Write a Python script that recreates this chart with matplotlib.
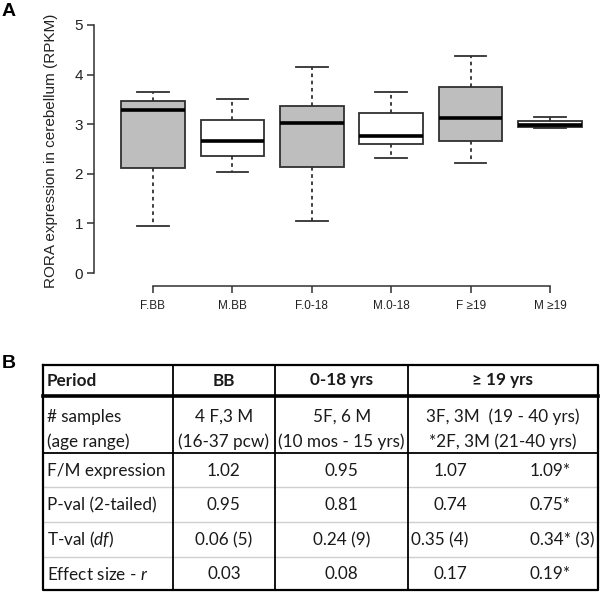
import matplotlib
matplotlib.use("Agg")
import matplotlib.pyplot as plt

# ---- panel A: RORA expression boxplots ----
groups = ["F.BB", "M.BB", "F.0-18", "M.0-18", "F \u226519", "M \u226519"]
whislo = [0.94, 2.04, 1.04, 2.31, 2.21, 2.92]
q1 = [2.11, 2.36, 2.13, 2.60, 2.66, 2.95]
med = [3.29, 2.66, 3.03, 2.77, 3.12, 2.98]
q3 = [3.47, 3.08, 3.37, 3.23, 3.74, 3.07]
whishi = [3.65, 3.51, 4.16, 3.64, 4.37, 3.15]
fills = ["#bebebe", "white", "#bebebe", "white", "#bebebe", "white"]

# ---- panel B: table ----
col_headers = ["Period", "BB", "0-18 yrs", "\u2265 19 yrs"]
row_labels = ["F/M expression", "P-val (2-tailed)", "T-val ($df$)", "Effect size - $r$"]
samples = [("# samples", "(age range)"),
           ("4 F,3 M", "(16-37 pcw)"),
           ("5F, 6 M", "(10 mos - 15 yrs)"),
           ("3F, 3M  (19 - 40 yrs)", "*2F, 3M (21-40 yrs)")]
bb_vals = ["1.02", "0.95", "0.06 (5)", "0.03"]
mid_vals = ["0.95", "0.81", "0.24 (9)", "0.08"]
adult_vals = ["1.07", "0.74", "0.35 (4)", "0.17"]
adult_star = ["1.09*", "0.75*", "0.34* (3)", "0.19*"]

plt.rcParams["font.family"] = ["Liberation Sans", "DejaVu Sans"]
plt.rcParams["mathtext.fontset"] = "custom"
plt.rcParams["mathtext.rm"] = "Lato"
plt.rcParams["mathtext.it"] = "Lato:italic"

W, H = 600, 593
fig = plt.figure(figsize=(6, 5.93), dpi=100)

# panel A axes, placed in pixel units
ax = fig.add_axes([94 / W, 1 - 286 / H, (600 - 94) / W, (286 - 15) / H])
stats = [dict(med=m, q1=a, q3=b, whislo=lo, whishi=hi, fliers=[], label=g)
         for g, lo, a, m, b, hi in zip(groups, whislo, q1, med, q3, whishi)]
bp = ax.bxp(stats, positions=range(1, len(groups) + 1), widths=0.8,
            patch_artist=True, showfliers=False,
            boxprops=dict(edgecolor="#303030", linewidth=1.3),
            medianprops=dict(color="black", linewidth=2.6, solid_capstyle="butt"),
            whiskerprops=dict(color="#303030", linewidth=1.3, linestyle=(0, (2, 2))),
            capprops=dict(color="#303030", linewidth=1.3), capwidths=0.4)
for patch, c in zip(bp["boxes"], fills):
    patch.set_facecolor(c)

ax.set_xlim(0.257, 6.63)
ax.set_ylim(-0.26, 5.2)
ax.set_yticks(range(0, 6))
ax.spines["top"].set_visible(False)
ax.spines["right"].set_visible(False)
ax.spines["left"].set_bounds(0, 5)
ax.spines["bottom"].set_bounds(1, 6)
for s in ("left", "bottom"):
    ax.spines[s].set_color("#303030")
    ax.spines[s].set_linewidth(1.1)
ax.tick_params(axis="y", direction="out", length=5, width=1.1, color="#303030",
               labelsize=11, labelcolor="#222222", pad=3)
ax.tick_params(axis="x", direction="out", length=5, width=1.1, color="#303030",
               labelsize=8.5, labelcolor="#222222", pad=5)
ax.set_ylabel("RORA expression in cerebellum (RPKM)", fontsize=11, color="#222222",
              labelpad=12)
fig.text(2 / W, 1 - 11 / H, "A", fontsize=14, fontweight="bold", va="center")

# panel B: table drawn in a pixel-coordinate overlay
tx = fig.add_axes([0, 0, 1, 1])
tx.set_xlim(0, W)
tx.set_ylim(H, 0)
tx.axis("off")

xs = [42.7, 172.7, 275, 408.3, 597.7]
ys = [365, 396, 452.7, 486.7, 521.7, 556.7, 590]
tfont = dict(family=["Lato", "DejaVu Sans"], fontsize=12.3, color="#1a1a1a")

for y in ys[3:-1]:
    tx.plot([xs[0], xs[-1]], [y, y], color="#cfcfcf", lw=1.0)
tx.plot([xs[0], xs[-1]], [ys[1], ys[1]], color="black", lw=2.6)
tx.plot([xs[0], xs[-1]], [ys[2], ys[2]], color="black", lw=1.3)
for x in xs[1:-1]:
    tx.plot([x, x], [ys[0], ys[-1]], color="black", lw=1.3)
tx.plot([xs[0], xs[-1], xs[-1], xs[0], xs[0]], [ys[0], ys[0], ys[-1], ys[-1], ys[0]],
        color="black", lw=1.6)

centers = [(xs[i] + xs[i + 1]) / 2 for i in range(4)]
hy = (ys[0] + ys[1]) / 2
tx.text(xs[0] + 4, hy, col_headers[0], ha="left", va="center", fontweight="bold", **tfont)
for c, h in zip(centers[1:], col_headers[1:]):
    tx.text(c, hy, h, ha="center", va="center", fontweight="bold", **tfont)

for j, (l1, l2) in enumerate(samples):
    x = xs[0] + 4 if j == 0 else centers[j]
    ha = "left" if j == 0 else "center"
    tx.text(x, 416.7, l1, ha=ha, va="center", **tfont)
    tx.text(x, 441.7, l2, ha=ha, va="center", **tfont)

for i, lab in enumerate(row_labels):
    yc = (ys[i + 2] + ys[i + 3]) / 2 + 1
    tx.text(xs[0] + 4, yc, lab, ha="left", va="center", **tfont)
    tx.text(centers[1], yc, bb_vals[i], ha="center", va="center", **tfont)
    tx.text(centers[2], yc, mid_vals[i], ha="center", va="center", **tfont)
    if i == 2:
        tx.text(xs[3] + 3, yc, adult_vals[i], ha="left", va="center", **tfont)
        tx.text(xs[4] - 3, yc, adult_star[i], ha="right", va="center", **tfont)
    else:
        tx.text(450, yc, adult_vals[i], ha="center", va="center", **tfont)
        tx.text(550, yc, adult_star[i], ha="center", va="center", **tfont)

fig.text(2 / W, 1 - 363 / H, "B", fontsize=14, fontweight="bold", va="center")

fig.savefig("out.png", dpi=100)
